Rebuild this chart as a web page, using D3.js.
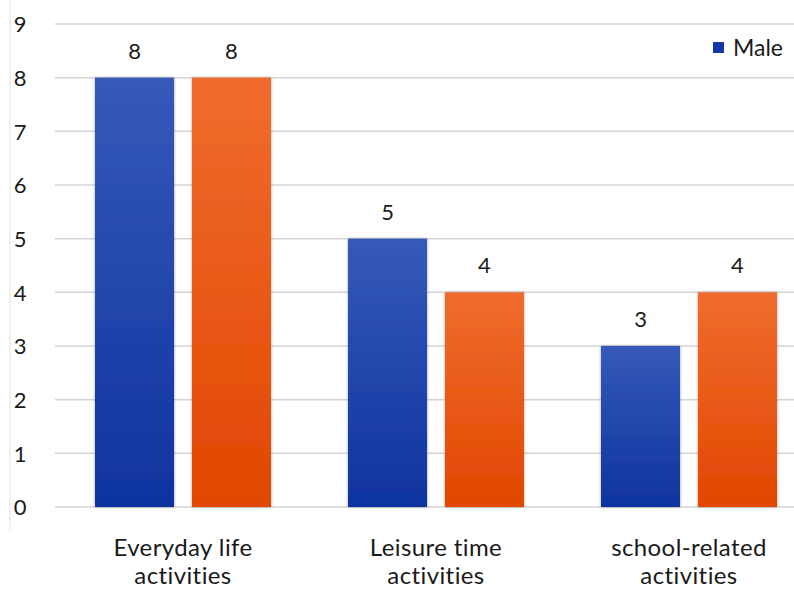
<!DOCTYPE html>
<html>
<head>
<meta charset="utf-8">
<script src="https://cdn.jsdelivr.net/npm/d3@7"></script>
<style>
  html, body { margin: 0; padding: 0; background: #fff; }
  svg { display: block; font-family: Lato, "Open Sans", sans-serif; }
</style>
</head>
<body>
<svg id="chart" width="794" height="591"></svg>
<script>
// Activity categories and counts per group
const categories = [["Everyday life", "activities"], ["Leisure time", "activities"], ["school-related", "activities"]];
const series = ["Male", "Female"];
const maleValues = [8, 5, 3];
const femaleValues = [8, 4, 4];
const yTicks = [0, 1, 2, 3, 4, 5, 6, 7, 8, 9];

const svg = d3.select("#chart");
const W = 794, H = 591;
const plot = { left: 55, right: 814, top: 24, bottom: 507 };

const x = d3.scaleBand().domain(d3.range(categories.length)).range([plot.left, plot.right]);
const x1 = d3.scaleBand().domain(series).range([40, 216]).paddingInner(0.185);
const y = d3.scaleLinear().domain([0, 9]).range([plot.bottom, plot.top]);

// Gradients for the bars
const defs = svg.append("defs");
const grads = [
  { id: "gMale", top: "#3659ba", bottom: "#0f339f" },
  { id: "gFemale", top: "#f06c2e", bottom: "#e14700" }
];
grads.forEach(g => {
  const lg = defs.append("linearGradient").attr("id", g.id).attr("x1", 0).attr("y1", 0).attr("x2", 0).attr("y2", 1);
  lg.append("stop").attr("offset", "0%").attr("stop-color", g.top);
  lg.append("stop").attr("offset", "100%").attr("stop-color", g.bottom);
});
const shadow = defs.append("filter").attr("id", "shadow").attr("x", "-20%").attr("y", "-10%").attr("width", "140%").attr("height", "120%");
shadow.append("feDropShadow").attr("dx", 0).attr("dy", 0).attr("stdDeviation", 1.6).attr("flood-color", "#000").attr("flood-opacity", 0.35);

// Faint left border
svg.append("line").attr("x1", 10).attr("x2", 10).attr("y1", 0).attr("y2", 530)
  .attr("stroke", "#e6e6e6").attr("stroke-width", 1.2);

// Gridlines
svg.append("g").selectAll("line").data(yTicks).join("line")
  .attr("x1", plot.left).attr("x2", W)
  .attr("y1", d => y(d)).attr("y2", d => y(d))
  .attr("stroke", "#d4d4d4").attr("stroke-width", 1.5);

// Y axis labels
const yAxis = d3.axisLeft(y).tickValues(yTicks).tickSize(0).tickPadding(0);
const ya = svg.append("g").attr("transform", "translate(20,0)").call(yAxis);
ya.select(".domain").remove();
ya.selectAll("text").attr("font-size", 22).attr("font-family", "Lato, sans-serif").attr("fill", "#1a1a1a").attr("text-anchor", "middle").attr("dy", "0.36em");

// Bars
const data = categories.map((c, i) => ({ i, vals: [
  { s: "Male", v: maleValues[i] },
  { s: "Female", v: femaleValues[i] }
] }));

const groups = svg.append("g").selectAll("g").data(data).join("g")
  .attr("transform", d => `translate(${x(d.i)},0)`);

groups.selectAll("rect").data(d => d.vals).join("rect")
  .attr("x", d => x1(d.s))
  .attr("width", x1.bandwidth())
  .attr("y", d => y(d.v))
  .attr("height", d => y(0) - y(d.v))
  .attr("fill", d => d.s === "Male" ? "url(#gMale)" : "url(#gFemale)")
  .attr("filter", "url(#shadow)");

groups.selectAll("text.val").data(d => d.vals).join("text")
  .attr("class", "val")
  .attr("x", d => x1(d.s) + x1.bandwidth() / 2)
  .attr("y", d => y(d.v) - 19)
  .attr("text-anchor", "middle")
  .attr("font-size", 22).attr("fill", "#1a1a1a")
  .text(d => d.v);

// Category labels
const cat = svg.append("g").selectAll("text").data(categories).join("text")
  .attr("x", (d, i) => x(i) + (x1("Male") + x1("Female") + x1.bandwidth()) / 2)
  .attr("y", 556)
  .attr("text-anchor", "middle")
  .attr("font-size", 24).attr("letter-spacing", 0.4).attr("fill", "#1a1a1a");
cat.selectAll("tspan").data(d => d).join("tspan")
  .attr("x", function () { return d3.select(this.parentNode).attr("x"); })
  .attr("dy", (d, i) => i === 0 ? 0 : 28)
  .text(d => d);

// Legend
const lg = svg.append("g").attr("transform", "translate(713,42)");
lg.append("rect").attr("width", 11).attr("height", 11).attr("fill", "#1437a8");
lg.append("text").attr("x", 20).attr("y", 6).attr("dy", "0.36em").attr("font-size", 23).attr("fill", "#1a1a1a").text("Male");
</script>
</body>
</html>
